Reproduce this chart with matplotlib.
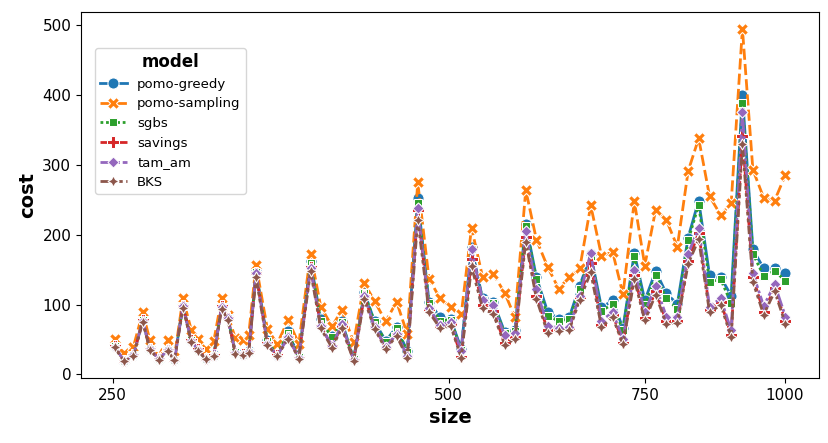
import matplotlib
matplotlib.use('Agg')
import matplotlib.pyplot as plt
import seaborn as sns
import pandas as pd

models = ['pomo-greedy', 'pomo-sampling', 'sgbs', 'savings', 'tam_am', 'BKS']

sizes = [251, 256, 261, 266, 270, 275, 280, 284, 289, 294, 298, 303, 308, 313, 317,
         322, 327, 331, 336, 344, 351, 359, 367, 376, 384, 393, 401, 411, 420, 429,
         439, 449, 459, 469, 480, 491, 502, 513, 524, 536, 548, 561, 573, 586, 599,
         613, 627, 641, 655, 670, 685, 701, 716, 733, 749, 766, 783, 801, 819, 837,
         856, 876, 895, 916, 936, 957, 979, 1001]

pomo_greedy = [41, 20, 28, 78, 37, 22.5, 35.5, 21.5, 99, 50, 36, 23, 27.5, 98, 82,
               32, 29, 33, 148, 49, 28, 62, 25, 162, 79, 55, 76, 22, 118, 76,
               48, 68, 33, 252, 104, 82, 79, 37, 182, 109, 104, 61, 64, 216, 139,
               90, 80, 82, 127, 172, 96, 106, 66, 174, 106, 148, 116, 101, 196, 249,
               142, 139, 113, 400, 179, 152, 153, 145]

pomo_sampling = [51, 31, 40, 89, 49, 27, 50, 25, 109, 64, 51, 36, 48, 109, 85,
                 52, 50, 57, 157, 65, 44, 78, 44, 173, 97, 69, 92, 46, 131, 105,
                 76, 104, 58, 275, 137, 109, 96, 86, 210, 140, 144, 117, 82, 264, 193,
                 154, 123, 139, 152, 242, 170, 175, 115, 248, 156, 236, 221, 183, 291, 338,
                 255, 228, 245, 495, 293, 253, 249, 286]

sgbs = [40.5, 19.8, 27.6, 77.5, 36.5, 22, 35, 21, 98, 49, 35.5, 22.5, 27, 97, 81,
        31.5, 28.5, 32.5, 146, 48, 27.5, 60, 24.5, 160, 77, 53, 75, 21.5, 117, 75,
        47, 66, 32, 245, 102, 77, 78, 35, 180, 107, 102, 59, 62, 212, 137,
        84, 77, 79, 123, 170, 91, 101, 63, 169, 99, 142, 109, 94, 192, 243,
        133, 136, 102, 388, 173, 141, 148, 134]

savings = [40.5, 20, 27.8, 77.5, 36.8, 22.3, 35.2, 21.3, 98.5, 49.5, 35.8, 22.8, 27.2, 97.5, 81.5,
           31.3, 28.9, 32.6, 145, 44.5, 27.2, 54, 24, 154, 69, 40.5, 69.5, 20.8, 112, 68.5,
           38.5, 58, 25.5, 235, 93.5, 70, 72.5, 25.5, 166, 99, 91, 45, 53.5, 197, 113,
           63, 65.5, 66.8, 111, 159, 71.5, 85.8, 45.5, 142, 81, 119.5, 76, 76.8, 163, 203,
           93, 104, 56.5, 342, 139, 89.5, 124, 76]

tam_am = [40, 19.6, 27.5, 77, 36.5, 22, 34.8, 21, 97.5, 48.5, 35.3, 22.4, 26.8, 96.5, 80.5,
          31, 28.5, 32.2, 145, 44, 27, 53, 24, 153, 69, 41, 72, 21, 113, 68,
          39, 58, 26.5, 238, 95, 71, 75, 34, 180, 106, 99, 56, 59, 206, 122,
          69, 67, 68, 113, 174, 77, 89, 51, 149, 89, 127, 83, 82, 173, 209,
          97, 109, 63, 376, 145, 98, 129, 83]

bks = [38.7, 18.8, 26.6, 75.5, 35.3, 21.2, 33.5, 20.2, 95.2, 47.2, 34.2, 21.7, 25.9, 94.0, 78.4,
       29.8, 27.5, 31.1, 139.1, 42.1, 25.9, 51.5, 22.8, 147.7, 65.9, 38.3, 66.2, 19.7, 107.8, 65.4,
       36.4, 55.2, 24.1, 221.8, 89.4, 66.5, 69.2, 24.2, 154.6, 94.8, 86.7, 42.7, 50.7, 190.3, 108.5,
       59.5, 62.2, 63.7, 106.8, 146.3, 68.2, 81.9, 43.4, 136.2, 77.3, 114.4, 72.4, 73.3, 158.1, 193.7,
       89.0, 99.3, 53.9, 329.2, 132.7, 85.5, 119.0, 72.4]

xticks = [250, 500, 750, 1000]
xtick_labels = ['250', '500', '750', '1000']

series = [pomo_greedy, pomo_sampling, sgbs, savings, tam_am, bks]
df = pd.concat([pd.DataFrame({'size': sizes, 'cost': vals, 'model': m})
                for m, vals in zip(models, series)], ignore_index=True)

fig = plt.figure(figsize=(8.29, 4.43), dpi=100)
ax = fig.add_axes([81 / 829, 1 - 378 / 443, 738 / 829, 366 / 443])
ax.set_xscale('log')
sns.lineplot(data=df, x='size', y='cost', hue='model', style='model',
             hue_order=models, style_order=models, markers=True, dashes=True,
             linewidth=2, markersize=8, ax=ax)
ax.set_xticks(xticks)
ax.set_xticklabels(xtick_labels)
ax.minorticks_off()
ax.tick_params(labelsize=11)
ax.set_xlabel('size', fontsize=14, fontweight='bold')
ax.set_ylabel('cost', fontsize=14, fontweight='bold')

handles, labels = ax.get_legend_handles_labels()
ax.legend(handles, labels, title='model', loc='upper left',
          bbox_to_anchor=(0.019, 0.902), borderaxespad=0, fontsize=9.5,
          title_fontproperties={'weight': 'bold', 'size': 12})

fig.savefig('out.png', dpi=100)
